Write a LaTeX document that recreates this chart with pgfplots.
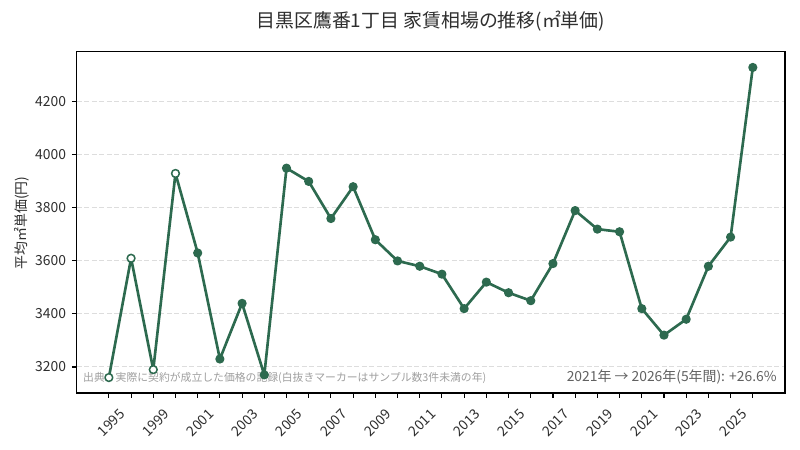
\documentclass[border=0pt]{standalone}
\usepackage{fontspec}
\setmainfont{Noto Sans CJK JP}
\usepackage{pgfplots}
\pgfplotsset{compat=1.18}
\usepackage{pgfplotstable}
\definecolor{lc}{HTML}{2D6A4F}
\definecolor{gridc}{HTML}{DDDDDD}
\pgfplotstableread{
i v k
0 3160 o
1 3610 o
2 3190 o
3 3930 o
4 3630 f
5 3230 f
6 3440 f
7 3170 f
8 3950 f
9 3900 f
10 3760 f
11 3880 f
12 3680 f
13 3600 f
14 3580 f
15 3550 f
16 3420 f
17 3520 f
18 3480 f
19 3450 f
20 3590 f
21 3790 f
22 3720 f
23 3710 f
24 3420 f
25 3320 f
26 3380 f
27 3580 f
28 3690 f
29 4330 f
}\data
\begin{document}
\begin{tikzpicture}
\useasboundingbox (0,0) rectangle (576pt,324pt);
\node[font=\fontsize{13.6}{16}\selectfont, text=black!82] at (310.2pt,308.9pt) {目黒区鷹番1丁目 家賃相場の推移(㎡単価)};
\node[font=\fontsize{10}{12}\selectfont, text=black!82, rotate=90] at (15.5pt,163.4pt) {平均㎡単価(円)};
\begin{axis}[
  at={(55.2pt,41pt)}, anchor=south west, scale only axis,
  width=510pt, height=245.6pt,
  xmin=-1.45, xmax=30.45, ymin=3101.5, ymax=4388.5,
  axis line style={line width=0.8pt, black},
  tick align=outside, major tick length=3.5pt,
  every tick/.style={black, line width=0.8pt},
  xtick pos=bottom, ytick pos=left,
  xtick={0,...,29},
  xticklabels={1995,{},1999,{},2001,{},2003,{},2005,{},2007,{},2009,{},2011,{},2013,{},2015,{},2017,{},2019,{},2021,{},2023,{},2025,{}},
  ytick={3200,3400,3600,3800,4000,4200},
  /pgf/number format/assume math mode=true,
  /pgf/number format/set thousands separator={},
  ticklabel style={font=\fontsize{10}{12}\selectfont, text=black!82},
  xticklabel style={xshift=1.8pt, yshift=-18pt, rotate=45, anchor=center},
  yticklabel style={anchor=east, inner sep=0pt, xshift=-4pt},
  ymajorgrids,
  major grid style={gridc, line width=0.7pt, dash pattern=on 3.6pt off 1.8pt},
]
\node[anchor=west, font=\fontsize{7.8}{9}\selectfont, text=black!38, inner sep=0pt] at (rel axis cs:0.0089,0.044) {出典：実際に契約が成立した価格の記録(白抜きマーカーはサンプル数3件未満の年)};
\node[anchor=east, font=\fontsize{10}{12}\selectfont, text=black!62, inner sep=0pt] at (rel axis cs:0.9887,0.048) {2021年 → 2026年(5年間): +26.6\%};
\addplot[lc, line width=1.9pt, line join=round, line cap=round, scatter, scatter src=explicit symbolic, mark size=2.8pt,
  scatter/classes={f={mark=*, draw=lc, fill=lc, line width=1pt}, o={mark=*, draw=lc, fill=white, line width=1.1pt}}]
  table[x=i, y=v, meta=k] {\data};
\end{axis}
\end{tikzpicture}
\end{document}
